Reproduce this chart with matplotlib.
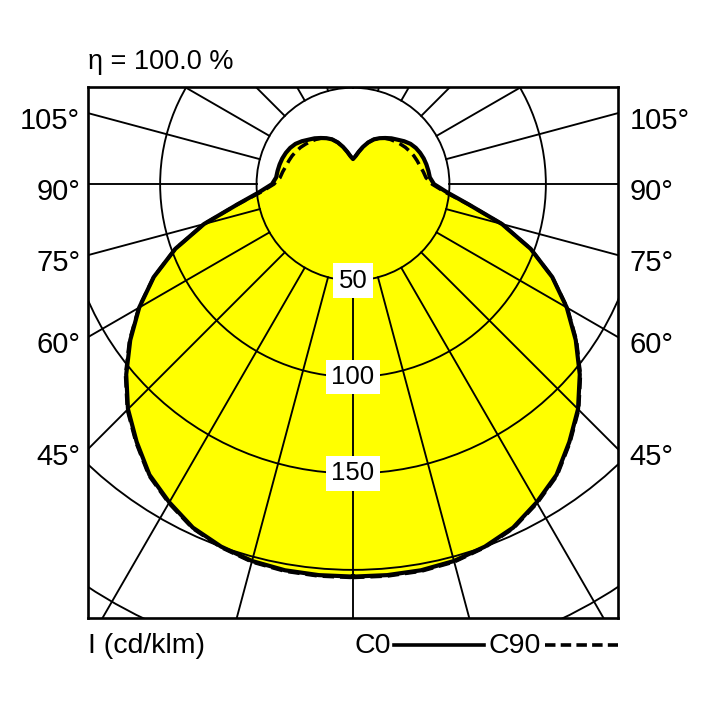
import numpy as np
import matplotlib
matplotlib.use('Agg')
import matplotlib.pyplot as plt
from matplotlib.patches import Circle, Polygon
from matplotlib.lines import Line2D

plt.rcParams['font.family'] = ['Liberation Sans', 'DejaVu Sans']

# luminous intensity (cd/klm) vs. angle from nadir
angles = np.arange(0, 181, 5)
c0 = [203.5, 203.5, 203.3, 202.3, 200.0, 196.5, 190.5, 184.0, 174.5, 165.0,
      153.5, 141.0, 128.0, 114.0, 98.0, 80.0, 61.0, 49.0, 42.0, 40.0,
      39.7, 39.4, 39.0, 38.4, 37.6, 36.4, 34.6, 32.6, 31.0, 29.2,
      27.5, 25.6, 23.0, 20.0, 17.0, 14.5, 13.0]
c90 = [204.0, 204.0, 203.8, 202.8, 200.4, 196.9, 191.0, 184.5, 175.0, 165.5,
       154.0, 141.5, 128.3, 114.0, 98.0, 80.0, 61.0, 48.0, 41.0, 38.0,
       37.0, 36.0, 35.4, 34.8, 34.0, 33.2, 32.2, 31.2, 30.2, 29.0,
       27.5, 25.6, 23.0, 20.0, 17.0, 14.5, 13.0]

rings = [50, 100, 150, 200, 250, 300]
ring_labels = [50, 100, 150]
side_labels = [105, 90, 75, 60, 45]
efficiency = 'η = 100.0 %'


def outline(r):
    # full closed curve: right half 0->180, left half 180->0
    t = np.radians(angles)
    r = np.asarray(r)
    xr, yr = r * np.sin(t), -r * np.cos(t)
    x = np.concatenate([xr, -xr[::-1]])
    y = np.concatenate([yr, yr[::-1]])
    return x, y


W = 708
fig = plt.figure(figsize=(7.08, 7.08), dpi=100)
px = lambda v: v / W
ax = fig.add_axes([px(88), px(708 - 618), px(530), px(531)])
ax.set_xlim(-137.4, 137.4)
ax.set_ylim(-224.9, 50.3)
ax.set_aspect('equal')
ax.set_xticks([])
ax.set_yticks([])
for s in ax.spines.values():
    s.set_linewidth(1.9)
    s.set_zorder(6)

x0, y0 = outline(c0)
x9, y9 = outline(c90)
ax.add_patch(Polygon(np.column_stack([x0, y0]), closed=True,
                     facecolor='#ffff00', edgecolor='none', zorder=1))

# polar grid
for r in rings:
    ax.add_patch(Circle((0, 0), r, fill=False, edgecolor='black',
                        linewidth=1.35, zorder=2))
for a in range(-180, 181, 15):
    t = np.radians(a)
    ax.plot([50 * np.sin(t), 400 * np.sin(t)], [-50 * np.cos(t), -400 * np.cos(t)],
            color='black', linewidth=1.35, zorder=2)

ax.plot(x0, y0, color='black', linewidth=3.0, zorder=4, solid_joinstyle='round')
ax.plot(x9, y9, color='black', linewidth=2.5, linestyle=(0, (3.3, 1.7)), zorder=4)

for v in ring_labels:
    ax.text(0, -v, str(v), fontsize=18.5, ha='center', va='center', zorder=5,
            bbox=dict(facecolor='white', edgecolor='none', boxstyle='square,pad=0.2'))

# angle labels at the frame edge
xl, xr = ax.get_xlim()
for a in side_labels:
    t = np.radians(a)
    yy = -xr / np.tan(t) if a != 90 else 0
    yy -= 4
    ax.text(xl - 4, yy, f'{a}°', fontsize=21, ha='right', va='center', clip_on=False)
    ax.text(xr + 6, yy, f'{a}°', fontsize=21, ha='left', va='center', clip_on=False)

fig.text(px(88), 1 - px(62), efficiency, fontsize=19.5, ha='left', va='center')
fig.text(px(88), 1 - px(646), 'I (cd/klm)', fontsize=20.5, ha='left', va='center')
fig.text(px(355), 1 - px(646), 'C0', fontsize=20.5, ha='left', va='center')
fig.text(px(488), 1 - px(646), 'C90', fontsize=20.5, ha='left', va='center')
fig.add_artist(Line2D([px(394), px(484)], [1 - px(645), 1 - px(645)],
                      color='black', linewidth=2.6))
fig.add_artist(Line2D([px(545), px(618)], [1 - px(645), 1 - px(645)],
                      color='black', linewidth=2.6, linestyle=(0, (2.9, 1.45))))

fig.savefig('out.png', dpi=100, facecolor='white')
